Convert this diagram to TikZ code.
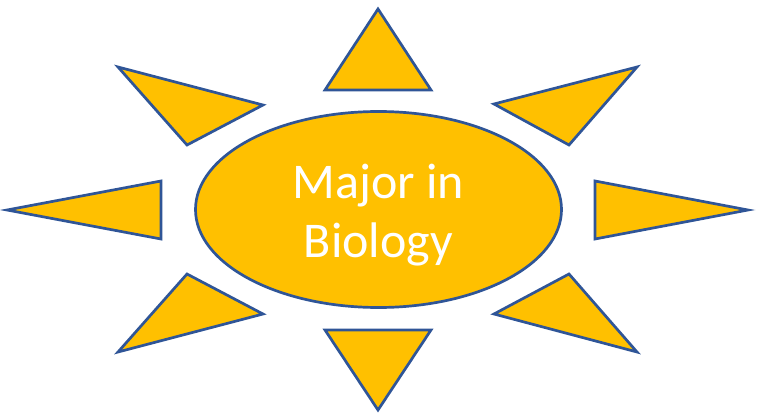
\documentclass[tikz,border=0pt]{standalone}
\usepackage{fontspec}
\setmainfont{Carlito}
\usetikzlibrary{shapes.geometric}
\definecolor{sungold}{HTML}{FFC000}
\definecolor{sunedge}{HTML}{2F5597}
\begin{document}
\begin{tikzpicture}[x=1pt,y=-1pt,
  ray/.style={draw=sunedge,fill=sungold,line width=2.7pt,line join=miter},
  sunbody/.style={ellipse,draw=sunedge,fill=sungold,line width=2.7pt,minimum width=366pt,minimum height=196pt,inner sep=0pt},
  sunlabel/.style={text=white,align=center,font=\fontsize{50}{59}\selectfont,inner sep=0pt}]
\useasboundingbox (0,0) rectangle (762,417);
% rays
\draw[ray] (378,9) -- (431,90) -- (325,90) -- cycle;
\draw[ray] (378,410) -- (431,330) -- (325,330) -- cycle;
\draw[ray] (7,210) -- (161,181) -- (161,239) -- cycle;
\draw[ray] (748,210) -- (595,181) -- (595,239) -- cycle;
\draw[ray] (118,67) -- (263,105) -- (187,145) -- cycle;
\draw[ray] (637,67) -- (494,104) -- (569,145) -- cycle;
\draw[ray] (118,352) -- (263,314) -- (187,274) -- cycle;
\draw[ray] (637,352) -- (494,314) -- (569,274) -- cycle;
% body
\node[sunbody] (sun) at (378.5,209.5) {};
\node[sunlabel] (label) at (378.5,215) {Major in\\Biology};
\end{tikzpicture}
\end{document}
